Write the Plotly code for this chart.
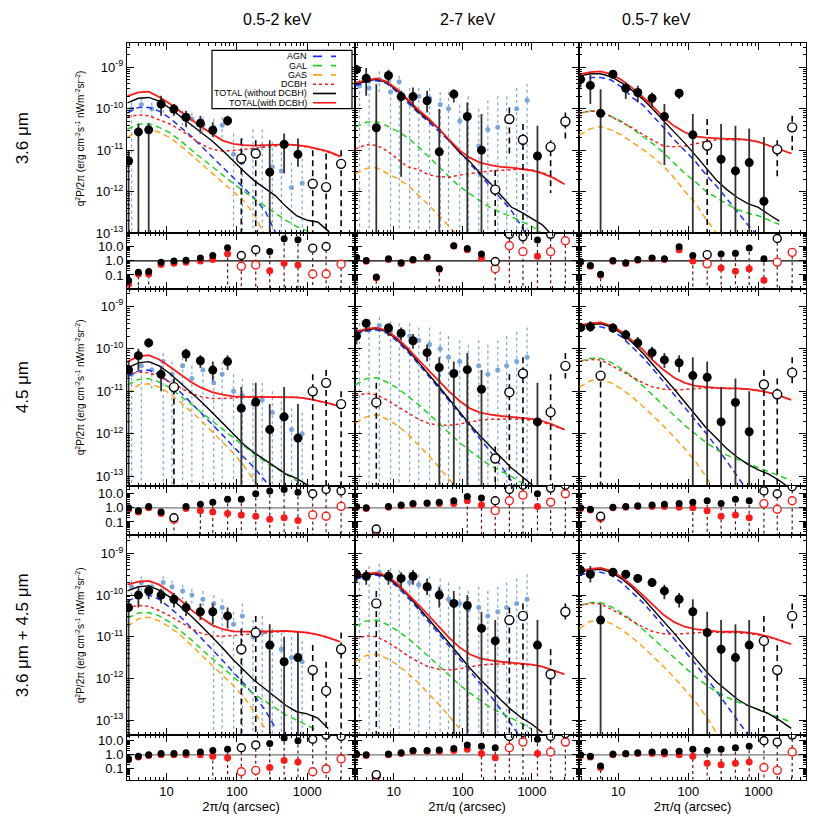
import plotly.graph_objects as go

# ---------------- data (log10 values) ----------------
CURVE_X = [2.8, 4.0, 5.6, 7.9, 11.2, 15.8, 22.4, 31.6, 44.7, 63.1, 89.1, 126, 178, 251, 355, 501, 708, 1000, 1413, 1995, 2951]
BIN_X = [2.9, 4.0, 5.6, 8.4, 12.8, 19.0, 30.4, 45.6, 74, 116, 186, 294, 471, 740, 1200, 1860, 3040]
BLUE_X = [3.2, 4.4, 6.2, 9.0, 12.0, 17.0, 23.0, 33.0, 47.0, 62.0, 90.0, 120, 170, 230, 320, 430, 600, 850, 1200, 1700]

COL_TITLES = ["0.5-2 keV", "2-7 keV", "0.5-7 keV"]
ROW_TITLES = ["3.6 \u03bcm", "4.5 \u03bcm", "3.6 \u03bcm + 4.5 \u03bcm"]
LEGEND_NAMES = ["AGN", "GAL", "GAS", "DCBH", "TOTAL (without DCBH)", "TOTAL(with DCBH)"]
N = None

# ---- 3.6 um, 0.5-2 keV ----
AGN_36_S = [-10.10,-9.97,-9.97,-10.06,-10.23,-10.44,-10.66,-10.91,-11.16,-11.41,-11.66,-11.91,-12.16,-12.45,-12.98,-13.4,-14,N,N,N,N]
GAL_36_S = [-10.49,-10.38,-10.36,-10.45,-10.58,-10.77,-10.99,-11.20,-11.40,-11.60,-11.80,-12.0,-12.18,-12.35,-12.53,-12.69,-12.84,-12.94,-13.05,-13.2,-13.4]
GAS_36_S = [-10.70,-10.52,-10.48,-10.57,-10.70,-10.89,-11.11,-11.34,-11.56,-11.78,-12.0,-12.23,-12.55,-13.1,-13.6,N,N,N,N,N,N]
DCBH_36_S = [-10.19,-10.15,-10.17,-10.27,-10.37,-10.51,-10.69,-10.86,-10.98,-11.02,-11.01,-10.98,-10.95,-10.92,-10.89,-10.87,-10.88,-10.92,-10.97,-11.05,-11.16]
TOT_36_S = [-9.86,-9.75,-9.73,-9.82,-9.99,-10.19,-10.38,-10.60,-10.78,-11.01,-11.27,-11.51,-11.74,-11.91,-12.10,-12.36,-12.58,-12.69,-12.73,-12.95,-13.3]
TOTD_36_S = [-9.70,-9.61,-9.59,-9.72,-9.88,-10.07,-10.27,-10.44,-10.61,-10.77,-10.85,-10.88,-10.89,-10.88,-10.87,-10.86,-10.88,-10.91,-10.97,-11.03,-11.15]
PT_36_S = [-11.26,-10.56,-10.51,-9.89,-10.01,-10.21,-10.35,-10.52,-10.29,-11.20,-11.08,-11.53,-10.86,-11.10,-11.81,-11.89,-11.33]
HI_36_S = [-11.0,-10.36,-10.36,-9.69,-9.89,-10.05,-10.17,-10.33,-10.17,-10.72,-10.76,-10.76,-10.60,-10.72,-11.0,-11.08,-11.0]
LO_36_S = [-14,-14,-14,-10.17,-10.17,-10.45,-10.60,-10.68,-10.41,-14,-14,-14,-11.56,-11.40,-14,-14,-14]
OPEN_36_S = [0,0,0,0,0,0,0,0,0,1,1,0,0,0,1,1,1]
BL_36_S = [-10.0,-9.9,-10.0,-9.9,-10.05,-10.2,-10.25,-10.4,-10.45,-10.4,-11.1,-11.3,-11.0,-10.9,-11.4,-11.5,-11.9,-11.8,N,N]
BLHI_36_S = [-9.85,-9.75,-9.85,-9.75,-9.9,-10.05,-10.1,-10.2,-10.25,-10.2,-10.6,-10.7,-10.5,-10.5,-10.8,-10.9,-11.3,-11.2,N,N]
BLLO_36_S = [-14,-10.1,-10.2,-10.1,-10.2,-10.4,-10.45,-10.6,-10.7,-10.7,-14,-14,-14,-14,-14,-14,-14,-14,N,N]
RB_36_S = [-1.40,-0.81,-0.76,-0.10,-0.02,0.05,0.21,0.38,0.93,0.38,0.79,0.67,1.57,1.50,0.90,1.02,N]
RR_36_S = [-1.64,-0.93,-0.93,-0.26,-0.17,-0.10,-0.02,0.10,0.50,-0.38,-0.29,-0.71,-0.17,-0.29,-0.93,-0.93,-0.24]

# ---- 3.6 um, 2-7 keV ----
AGN_36_H = [-9.45,-9.37,-9.32,-9.39,-9.60,-9.84,-10.10,-10.31,-10.53,-10.77,-11.03,-11.31,-11.60,-11.87,-12.15,-12.45,-12.84,-13.3,N,N,N]
GAL_36_H = [-10.44,-10.33,-10.31,-10.41,-10.54,-10.70,-10.91,-11.14,-11.39,-11.64,-11.87,-12.05,-12.22,-12.39,-12.50,-12.60,-12.72,-12.84,-13.01,-13.15,-13.3]
GAS_36_H = [-11.57,-11.44,-11.42,-11.54,-11.68,-11.84,-12.07,-12.31,-12.57,-12.83,-13.1,-13.5,N,N,N,N,N,N,N,N,N]
DCBH_36_H = [-10.97,-10.87,-10.88,-11.01,-11.20,-11.40,-11.46,-11.59,-11.64,-11.65,-11.60,-11.56,-11.53,-11.50,-11.49,-11.48,-11.46,-11.48,-11.54,-11.65,-11.82]
TOT_36_H = [-9.41,-9.35,-9.29,-9.37,-9.56,-9.79,-10.06,-10.27,-10.48,-10.76,-11.05,-11.27,-11.56,-11.80,-12.10,-12.37,-12.50,-12.64,-12.80,-13.07,-13.3]
TOTD_36_H = [-9.37,-9.32,-9.27,-9.35,-9.53,-9.77,-10.02,-10.23,-10.48,-10.75,-11.0,-11.18,-11.30,-11.36,-11.40,-11.42,-11.45,-11.49,-11.56,-11.66,-11.82]
PT_36_H = [-9.06,-9.27,-10.46,-9.20,-9.71,-9.71,-9.81,-11.04,-9.65,-10.19,-11.0,-11.95,-10.25,-10.75,-11.14,-10.92,-10.31]
HI_36_H = [-8.94,-9.02,-9.41,-9.06,-9.57,-9.49,-9.57,-10.01,-9.53,-9.85,-10.13,-11.48,-9.97,-10.37,-10.41,-10.76,-10.09]
LO_36_H = [-9.17,-9.69,-14,-9.37,-11.64,-9.97,-10.09,-14,-9.85,-14,-14,-14,-11.08,-14,-14,-12.03,-10.72]
OPEN_36_H = [0,0,0,0,0,0,0,0,0,0,0,1,1,1,0,1,1]
BL_36_H = [-9.45,-9.5,-9.3,-9.6,-9.35,-9.85,-9.7,-9.75,-9.9,-10.0,-10.3,-10.2,-10.9,-10.5,-10.45,-10.3,-10.0,-9.8,N,N]
BLHI_36_H = [-9.3,-9.2,-9.1,-9.3,-9.2,-9.5,-9.5,-9.5,-9.6,-9.6,-9.9,-9.7,-10.0,-9.8,-9.7,-9.7,-9.5,-9.4,N,N]
BLLO_36_H = [-14,-14,-9.6,-14,-14,-14,-14,-14,-14,-14,-14,-14,-14,-14,-14,-14,-14,-14,N,N]
RB_36_H = [0.26,0.02,-1.14,0.14,-0.14,0.09,0.26,-0.56,1.07,0.88,0.49,-0.05,1.88,1.70,1.47,1.88,N]
RR_36_H = [0.21,-0.03,-1.2,0.09,-0.19,0.04,0.21,-0.6,1.05,0.79,0.21,-0.56,1.07,0.65,0.33,0.65,1.42]

# ---- 3.6 um, 0.5-7 keV ----
AGN_36_F = [-9.32,-9.25,-9.25,-9.31,-9.48,-9.73,-9.91,-10.18,-10.46,-10.75,-11.02,-11.27,-11.59,-11.86,-12.17,-12.49,-12.80,-13.07,-13.5,N,N]
GAL_36_F = [-10.11,-10.05,-10.07,-10.18,-10.31,-10.48,-10.67,-10.85,-11.07,-11.32,-11.56,-11.76,-11.99,-12.14,-12.30,-12.43,-12.52,-12.58,-12.68,-12.79,N]
GAS_36_F = [-10.64,-10.48,-10.43,-10.51,-10.64,-10.80,-10.98,-11.17,-11.39,-11.67,-11.99,-12.27,-12.66,-12.99,-13.4,N,N,N,N,N,N]
DCBH_36_F = [-10.11,-10.06,-10.06,-10.19,-10.32,-10.46,-10.62,-10.77,-10.90,-10.92,-10.90,-10.84,-10.79,-10.75,-10.75,-10.75,-10.75,-10.80,-10.89,-10.98,-11.08]
TOT_36_F = [-9.21,-9.16,-9.16,-9.23,-9.38,-9.56,-9.77,-10.02,-10.30,-10.56,-10.83,-11.12,-11.43,-11.72,-11.95,-12.14,-12.29,-12.38,-12.55,-12.71,N]
TOTD_36_F = [-9.175,-9.12,-9.10,-9.17,-9.31,-9.50,-9.72,-9.95,-10.22,-10.42,-10.57,-10.67,-10.70,-10.72,-10.73,-10.73,-10.75,-10.80,-10.89,-10.98,-11.08]
PT_36_F = [-9.29,-9.44,-10.11,-9.17,-9.51,-9.61,-9.75,-10.19,-9.63,-10.63,-10.89,-11.22,-11.50,-11.30,-12.23,-10.98,-10.45]
HI_36_F = [-9.17,-9.17,-9.53,-9.10,-9.37,-9.45,-9.61,-9.89,-9.53,-10.13,-10.25,-10.37,-10.41,-10.48,-10.68,-10.76,-10.17]
LO_36_F = [-9.49,-9.89,-14,-9.25,-9.77,-9.85,-9.97,-11.36,-9.77,-14,-14,-14,-14,-14,-14,-11.72,-11.0]
OPEN_36_F = [0,0,0,0,0,0,0,0,0,0,1,0,0,0,0,1,1]
RB_36_F = [-0.05,-0.33,-0.95,0.02,-0.14,0.09,0.21,0.14,1.0,0.37,0.44,0.49,0.53,0.91,0.14,1.58,N]
RR_36_F = [-0.1,-0.38,-1.0,-0.03,-0.19,0.04,0.16,0.09,0.79,-0.02,-0.21,-0.51,-0.74,-0.56,-1.37,-0.09,0.60]

# ---- 4.5 um, 0.5-2 keV ----
AGN_45_S = [-10.65,-10.52,-10.5,-10.6,-10.8,-11.02,-11.27,-11.52,-11.78,-12.03,-12.3,-12.55,-12.8,-13.1,-13.4,N,N,N,N,N,N]
GAL_45_S = [-10.85,-10.72,-10.7,-10.78,-10.92,-11.1,-11.3,-11.5,-11.7,-11.9,-12.1,-12.3,-12.48,-12.65,-12.8,-12.95,-13.1,-13.25,N,N,N]
GAS_45_S = [-11.05,-10.85,-10.82,-10.9,-11.05,-11.25,-11.47,-11.7,-11.95,-12.2,-12.45,-12.75,-13.1,-13.5,N,N,N,N,N,N,N]
DCBH_45_S = [-10.6,-10.55,-10.56,-10.65,-10.78,-10.92,-11.05,-11.13,-11.17,-11.17,-11.15,-11.14,-11.13,-11.13,-11.13,-11.13,-11.14,-11.17,-11.22,-11.28,-11.36]
TOT_45_S = [-10.45,-10.33,-10.3,-10.4,-10.58,-10.8,-11.02,-11.25,-11.5,-11.75,-12.0,-12.25,-12.45,-12.62,-12.8,-12.95,-13.05,-13.2,-13.3,N,N]
TOTD_45_S = [-10.3,-10.18,-10.15,-10.25,-10.42,-10.6,-10.78,-10.92,-11.02,-11.08,-11.12,-11.13,-11.13,-11.13,-11.13,-11.13,-11.14,-11.17,-11.22,-11.28,-11.36]
PT_45_S = [-10.5,-10.16,-9.86,-10.6,-10.9,-10.12,-10.28,-10.5,-10.3,-11.4,-11.25,-11.9,-11.6,-12.1,-11.0,-10.8,-11.3]
HI_45_S = [-10.3,-10.0,-9.75,-10.4,-10.7,-10.0,-10.15,-10.3,-10.15,-10.9,-10.8,-11.3,-10.9,-11.3,-10.6,-10.5,-11.0]
LO_45_S = [-14,-10.5,-9.97,-11.0,-14,-10.3,-10.45,-10.75,-10.5,-14,-14,-14,-14,-14,-14,-14,-14]
OPEN_45_S = [0,0,0,0,1,0,0,0,0,0,0,0,0,0,1,1,1]
BL_45_S = [-10.6,-10.4,-10.5,-10.3,-10.6,-10.4,-10.7,-10.5,-10.8,-10.6,-11.0,-11.1,-11.3,-11.2,-11.5,-11.6,-11.9,-12.0,N,N]
BLHI_45_S = [-10.4,-10.2,-10.3,-10.1,-10.3,-10.2,-10.4,-10.3,-10.5,-10.3,-10.6,-10.7,-10.8,-10.8,-11.0,-11.1,-11.4,-11.5,N,N]
BLLO_45_S = [-14,-14,-11.0,-14,-14,-14,-14,-14,-14,-14,-14,-14,-14,-14,-14,-14,-14,-14,N,N]
RB_45_S = [0.0,-0.2,0.1,-0.3,-0.7,0.1,0.25,0.4,0.6,0.6,1.0,1.2,1.3,1.1,1.0,1.3,1.2]
RR_45_S = [-0.1,-0.3,0.0,-0.4,-0.8,-0.05,-0.2,-0.3,-0.4,-0.5,-0.6,-0.8,-0.7,-0.9,-0.5,-0.6,0.1]

# ---- 4.5 um, 2-7 keV ----
AGN_45_H = [-9.65,-9.58,-9.55,-9.63,-9.82,-10.06,-10.34,-10.62,-10.92,-11.22,-11.52,-11.82,-12.12,-12.42,-12.75,-13.1,-13.4,N,N,N,N]
GAL_45_H = [-10.85,-10.7,-10.68,-10.78,-10.92,-11.1,-11.3,-11.52,-11.75,-11.98,-12.2,-12.4,-12.58,-12.75,-12.88,-13.0,-13.15,-13.3,N,N,N]
GAS_45_H = [-11.75,-11.6,-11.55,-11.65,-11.8,-12.0,-12.25,-12.5,-12.78,-13.05,-13.35,N,N,N,N,N,N,N,N,N,N]
DCBH_45_H = [-11.1,-11.05,-11.08,-11.2,-11.35,-11.5,-11.65,-11.75,-11.8,-11.8,-11.77,-11.72,-11.68,-11.66,-11.65,-11.65,-11.66,-11.68,-11.72,-11.8,-11.9]
TOT_45_H = [-9.62,-9.55,-9.52,-9.6,-9.78,-10.02,-10.3,-10.58,-10.88,-11.18,-11.48,-11.78,-12.05,-12.3,-12.55,-12.8,-13.0,-13.2,-13.35,N,N]
TOTD_45_H = [-9.6,-9.53,-9.5,-9.57,-9.75,-9.98,-10.25,-10.5,-10.75,-11.0,-11.22,-11.4,-11.5,-11.55,-11.58,-11.6,-11.62,-11.65,-11.7,-11.78,-11.9]
PT_45_H = [-9.7,-9.4,-11.26,-9.51,-9.63,-9.81,-10.09,-10.44,-10.58,-10.49,-10.95,-12.58,-11.02,-10.58,-11.72,-11.49,-10.4]
HI_45_H = [-9.5,-9.3,-10.8,-9.4,-9.5,-9.65,-9.9,-10.2,-10.3,-10.1,-10.5,-12.3,-10.6,-10.2,-10.8,-10.6,-10.1]
LO_45_H = [-9.9,-9.6,-14,-9.7,-9.8,-10.0,-10.3,-14,-14,-14,-14,-14,-14,-14,-14,-14,-10.7]
OPEN_45_H = [0,0,1,0,0,0,0,0,0,0,0,1,1,1,0,1,1]
BL_45_H = [-9.6,-9.55,-9.45,-9.6,-9.7,-9.7,-9.8,-9.9,-10.0,-10.2,-10.3,-10.5,-10.4,-10.6,-10.5,-10.4,-10.3,-10.2,N,N]
BLHI_45_H = [-9.4,-9.3,-9.25,-9.35,-9.4,-9.4,-9.5,-9.5,-9.6,-9.7,-9.8,-9.9,-9.8,-9.9,-9.8,-9.7,-9.6,-9.5,N,N]
BLLO_45_H = [-14,-14,-14,-14,-14,-14,-14,-14,-14,-14,-14,-14,-14,-14,-14,-14,-14,-14,N,N]
RB_45_H = [0.1,0.0,-1.5,0.1,0.2,0.3,0.35,0.4,0.5,0.8,0.7,0.5,1.3,1.6,1.0,1.4,1.6]
RR_45_H = [0.05,-0.05,-1.6,0.05,0.15,0.25,0.3,0.3,0.3,0.5,0.2,-0.2,0.5,0.9,0.1,0.4,1.0]

# ---- 4.5 um, 0.5-7 keV ----
AGN_45_F = [-9.55,-9.5,-9.48,-9.55,-9.72,-9.95,-10.2,-10.48,-10.78,-11.08,-11.38,-11.68,-11.98,-12.3,-12.65,-13.0,-13.35,N,N,N,N]
GAL_45_F = [-10.3,-10.22,-10.22,-10.32,-10.47,-10.65,-10.87,-11.1,-11.33,-11.56,-11.8,-12.0,-12.2,-12.37,-12.5,-12.6,-12.7,-12.8,-12.9,-13.0,-13.1]
GAS_45_F = [-10.9,-10.75,-10.72,-10.8,-10.95,-11.13,-11.35,-11.58,-11.82,-12.08,-12.35,-12.65,-13.0,-13.4,N,N,N,N,N,N,N]
DCBH_45_F = [-10.3,-10.25,-10.26,-10.38,-10.52,-10.66,-10.8,-10.9,-10.95,-10.97,-10.95,-10.93,-10.92,-10.92,-10.93,-10.93,-10.95,-10.98,-11.03,-11.1,-11.2]
TOT_45_F = [-9.48,-9.43,-9.41,-9.48,-9.64,-9.85,-10.1,-10.38,-10.66,-10.95,-11.25,-11.55,-11.85,-12.1,-12.35,-12.55,-12.72,-12.85,-12.95,-13.1,-13.3]
TOTD_45_F = [-9.45,-9.4,-9.38,-9.45,-9.6,-9.8,-10.02,-10.28,-10.5,-10.68,-10.8,-10.87,-10.9,-10.92,-10.93,-10.93,-10.95,-10.98,-11.03,-11.1,-11.2]
PT_45_F = [-9.5,-9.48,-10.63,-9.51,-9.67,-9.86,-10.09,-10.26,-10.33,-10.63,-10.67,-11.72,-11.26,-11.95,-10.84,-11.07,-10.56]
HI_45_F = [-9.4,-9.35,-10.3,-9.4,-9.55,-9.72,-9.95,-10.1,-10.15,-10.2,-10.3,-10.9,-10.7,-11.0,-10.5,-10.7,-10.2]
LO_45_F = [-9.6,-9.6,-14,-9.62,-9.8,-10.0,-10.25,-10.45,-10.55,-14,-14,-14,-14,-14,-14,-14,-10.9]
OPEN_45_F = [0,0,1,0,0,0,0,0,0,0,0,0,0,0,1,1,1]
RB_45_F = [0.0,-0.1,-0.6,0.05,0.1,0.15,0.2,0.25,0.3,0.4,0.5,0.3,0.6,0.5,1.2,1.0,1.5]
RR_45_F = [-0.05,-0.15,-0.7,0.0,0.05,0.1,0.1,0.1,0.05,0.0,-0.2,-0.6,-0.5,-0.7,0.3,-0.1,0.5]

# ---- 3.6+4.5 um, 0.5-2 keV ----
AGN_3645_S = [-10.15,-10.02,-10.0,-10.1,-10.3,-10.52,-10.78,-11.04,-11.3,-11.57,-11.85,-12.12,-12.42,-12.75,-13.2,N,N,N,N,N,N]
GAL_3645_S = [-10.55,-10.43,-10.42,-10.5,-10.65,-10.85,-11.07,-11.3,-11.52,-11.75,-11.97,-12.18,-12.38,-12.55,-12.72,-12.88,-13.0,-13.12,-13.25,N,N]
GAS_3645_S = [-10.75,-10.57,-10.53,-10.62,-10.77,-10.96,-11.2,-11.44,-11.68,-11.92,-12.17,-12.45,-12.8,-13.2,N,N,N,N,N,N,N]
DCBH_3645_S = [-10.3,-10.25,-10.27,-10.37,-10.5,-10.65,-10.8,-10.92,-10.98,-10.99,-10.97,-10.94,-10.92,-10.9,-10.88,-10.87,-10.88,-10.9,-10.95,-11.02,-11.12]
TOT_3645_S = [-9.9,-9.8,-9.78,-9.88,-10.05,-10.27,-10.5,-10.75,-11.0,-11.27,-11.55,-11.8,-12.05,-12.25,-12.45,-12.65,-12.8,-12.85,-12.95,-13.2,N]
TOTD_3645_S = [-9.75,-9.68,-9.66,-9.75,-9.92,-10.12,-10.35,-10.55,-10.72,-10.82,-10.87,-10.88,-10.88,-10.87,-10.86,-10.86,-10.88,-10.9,-10.95,-11.02,-11.12]
PT_3645_S = [-10.3,-10.0,-9.9,-10.0,-10.1,-10.3,-10.4,-10.4,-10.5,-11.3,-10.9,-11.2,-11.6,-11.5,-11.8,-12.3,-11.3]
HI_3645_S = [-10.1,-9.8,-9.75,-9.85,-9.95,-10.15,-10.2,-10.2,-10.3,-10.8,-10.5,-10.7,-11.0,-10.9,-11.2,-11.6,-10.9]
LO_3645_S = [-14,-10.3,-10.1,-10.2,-10.3,-10.5,-10.6,-10.7,-10.8,-14,-14,-14,-14,-14,-14,-14,-14]
OPEN_3645_S = [0,0,0,0,0,0,0,0,0,1,1,0,0,0,1,1,1]
BL_3645_S = [-9.8,-9.7,-9.8,-9.7,-9.8,-9.9,-10.0,-10.1,-10.2,-10.3,-10.7,-10.5,-11.0,-10.9,-11.2,-11.3,-11.5,-11.6,N,N]
BLHI_3645_S = [-9.65,-9.55,-9.65,-9.55,-9.65,-9.75,-9.85,-9.9,-10.0,-10.1,-10.4,-10.2,-10.6,-10.5,-10.8,-10.9,-11.0,-11.1,N,N]
BLLO_3645_S = [-10.0,-9.9,-10.0,-9.9,-10.0,-10.1,-10.2,-10.3,-14,-14,-14,-14,-14,-14,-14,-14,-14,-14,N,N]
RB_3645_S = [-0.3,-0.1,0.0,0.1,0.1,0.15,0.2,0.3,0.4,0.5,0.7,0.8,1.2,1.0,1.1,1.4,1.3]
RR_3645_S = [-0.35,-0.15,-0.05,0.0,0.0,0.0,0.0,-0.1,-0.2,-1.2,-1.1,-0.9,-0.4,-0.5,-1.2,-1.0,-0.3]

# ---- 3.6+4.5 um, 2-7 keV ----
AGN_3645_H = [-9.62,-9.55,-9.52,-9.6,-9.8,-10.05,-10.33,-10.62,-10.92,-11.22,-11.52,-11.82,-12.12,-12.42,-12.75,-13.1,-13.45,N,N,N,N]
GAL_3645_H = [-10.75,-10.62,-10.6,-10.7,-10.85,-11.03,-11.24,-11.47,-11.7,-11.93,-12.15,-12.35,-12.53,-12.7,-12.83,-12.95,-13.08,-13.22,N,N,N]
GAS_3645_H = [-11.6,-11.45,-11.42,-11.52,-11.67,-11.87,-12.1,-12.35,-12.62,-12.9,-13.2,N,N,N,N,N,N,N,N,N,N]
DCBH_3645_H = [-11.05,-10.98,-11.0,-11.12,-11.28,-11.45,-11.6,-11.72,-11.78,-11.8,-11.77,-11.72,-11.68,-11.66,-11.65,-11.65,-11.66,-11.68,-11.72,-11.8,-11.9]
TOT_3645_H = [-9.58,-9.52,-9.49,-9.57,-9.76,-10.0,-10.28,-10.56,-10.85,-11.15,-11.45,-11.75,-12.02,-12.28,-12.52,-12.75,-12.95,-13.1,-13.3,N,N]
TOTD_3645_H = [-9.55,-9.49,-9.46,-9.53,-9.72,-9.96,-10.22,-10.48,-10.75,-11.02,-11.25,-11.42,-11.52,-11.57,-11.6,-11.62,-11.64,-11.67,-11.72,-11.8,-11.9]
PT_3645_H = [-9.5,-9.55,-10.2,-9.55,-9.6,-9.55,-9.8,-10.0,-10.2,-10.25,-10.8,-11.1,-10.6,-10.5,-11.2,-11.9,-10.4]
HI_3645_H = [-9.35,-9.4,-9.9,-9.4,-9.45,-9.4,-9.6,-9.8,-9.9,-10.0,-10.4,-10.6,-10.3,-10.2,-10.6,-11.3,-10.2]
LO_3645_H = [-9.7,-9.75,-14,-9.75,-9.8,-9.75,-10.0,-10.3,-14,-14,-14,-14,-14,-14,-14,-14,-10.6]
OPEN_3645_H = [0,0,1,0,0,0,0,0,0,0,0,0,1,1,0,1,1]
BL_3645_H = [-9.55,-9.5,-9.45,-9.6,-9.65,-9.7,-9.75,-9.85,-9.9,-10.1,-10.2,-10.35,-10.3,-10.5,-10.4,-10.3,-10.2,-10.1,N,N]
BLHI_3645_H = [-9.4,-9.3,-9.25,-9.35,-9.4,-9.45,-9.5,-9.55,-9.6,-9.7,-9.8,-9.9,-9.8,-9.9,-9.8,-9.7,-9.6,-9.5,N,N]
BLLO_3645_H = [-14,-14,-14,-14,-14,-14,-14,-14,-14,-14,-14,-14,-14,-14,-14,-14,-14,-14,N,N]
RB_3645_H = [0.05,0.0,-1.4,0.05,0.15,0.3,0.3,0.35,0.45,0.7,0.6,0.5,1.3,1.6,1.1,1.3,1.5]
RR_3645_H = [0.0,-0.05,-1.5,0.0,0.1,0.25,0.25,0.25,0.3,0.4,0.1,-0.2,0.5,0.9,0.1,0.2,0.9]

# ---- 3.6+4.5 um, 0.5-7 keV ----
AGN_3645_F = [-9.52,-9.46,-9.45,-9.52,-9.7,-9.93,-10.18,-10.46,-10.75,-11.05,-11.35,-11.65,-11.97,-12.3,-12.65,-13.0,-13.35,N,N,N,N]
GAL_3645_F = [-10.25,-10.18,-10.18,-10.28,-10.43,-10.61,-10.82,-11.05,-11.28,-11.52,-11.75,-11.96,-12.15,-12.32,-12.45,-12.56,-12.65,-12.75,-12.85,-12.95,-13.05]
GAS_3645_F = [-10.8,-10.63,-10.6,-10.68,-10.83,-11.02,-11.24,-11.47,-11.72,-11.98,-12.26,-12.56,-12.9,-13.3,N,N,N,N,N,N,N]
DCBH_3645_F = [-10.25,-10.2,-10.21,-10.33,-10.47,-10.62,-10.77,-10.88,-10.93,-10.94,-10.92,-10.9,-10.89,-10.89,-10.9,-10.9,-10.92,-10.96,-11.01,-11.08,-11.18]
TOT_3645_F = [-9.45,-9.4,-9.38,-9.45,-9.61,-9.82,-10.07,-10.35,-10.63,-10.92,-11.22,-11.52,-11.82,-12.08,-12.3,-12.5,-12.65,-12.75,-12.85,-13.0,-13.2]
TOTD_3645_F = [-9.42,-9.37,-9.35,-9.42,-9.57,-9.77,-10.0,-10.25,-10.48,-10.65,-10.76,-10.82,-10.85,-10.87,-10.88,-10.88,-10.9,-10.94,-11.0,-11.08,-11.18]
PT_3645_F = [-9.4,-9.5,-10.6,-9.45,-9.5,-9.6,-9.7,-9.9,-10.1,-10.4,-10.9,-11.3,-11.5,-11.2,-11.1,-11.8,-10.5]
HI_3645_F = [-9.3,-9.3,-10.2,-9.35,-9.4,-9.5,-9.6,-9.75,-9.95,-10.1,-10.4,-10.6,-10.7,-10.6,-10.5,-11.2,-10.2]
LO_3645_F = [-9.5,-9.7,-14,-9.55,-9.6,-9.7,-9.8,-10.1,-10.3,-14,-14,-14,-14,-14,-14,-14,-10.8]
OPEN_3645_F = [0,0,0,0,0,0,0,0,0,0,0,0,0,0,1,1,1]
RB_3645_F = [0.0,-0.1,-0.8,0.05,0.1,0.15,0.2,0.2,0.25,0.4,0.3,0.4,0.5,0.6,1.0,0.9,1.4]
RR_3645_F = [-0.05,-0.15,-0.9,0.0,0.05,0.1,0.1,0.05,0.0,-0.1,-0.6,-0.7,-0.6,-0.5,-0.9,-1.1,0.2]

# ------------- assemble -------------
G = globals()
BANDS = ["36", "45", "3645"]
XRAY = ["S", "H", "F"]

COLS_PX = [(127, 355), (355, 579), (579, 806)]
ROWS_PX = [((42, 234), (234, 290)), ((290, 490), (490, 540)), ((540, 742), (742, 787))]
MAIN_RANGE = [(-13.0, -8.43), (-13.23, -8.58), (-13.36, -8.57)]
RAT_RANGE = [(-1.96, 1.96), (-1.96, 1.54), (-1.75, 1.40)]
XRANGE = (0.44, 3.68)

FONT = "Liberation Sans, Arial, Helvetica, sans-serif"
C_AGN, C_GAL, C_GAS, C_RED = "#1a2cff", "#22d422", "#ffa31a", "#ff1a1a"
C_BLUE = "#7aa6dc"
DASH = "6px,4px"


def minor_vals(lo_exp, hi_exp):
    out = []
    for e in range(lo_exp, hi_exp + 1):
        for m in range(2, 10):
            out.append(m * 10.0 ** e)
    return out


X_MINOR = minor_vals(0, 3)
Y_MINOR = minor_vals(-14, -9)
R_MINOR = minor_vals(-2, 1)


def ex(v):
    return None if v is None else 10 ** v


def py(p):
    return 1 - p / 830.0


fig = go.Figure()
layout = dict()


def axname(kind, n):
    return kind + ("" if n == 1 else str(n))


TICKFONT = dict(family=FONT, size=13, color="black")
for r, band in enumerate(BANDS):
    for c, xr in enumerate(XRAY):
        k = r * 3 + c
        nm, nr = 2 * k + 1, 2 * k + 2
        key = band + "_" + xr
        xm, ym = axname("x", nm), axname("y", nm)
        xr_, yr_ = axname("x", nr), axname("y", nr)
        (mt, mb), (rt, rb) = ROWS_PX[r]
        x0, x1 = COLS_PX[c]
        common = dict(showline=True, linecolor="black", linewidth=1, mirror="ticks",
                      ticks="inside", ticklen=7, tickcolor="black", tickwidth=1,
                      showgrid=False, zeroline=False, tickfont=TICKFONT)
        base_x = dict(common, type="log", range=list(XRANGE), domain=[x0 / 830, x1 / 830],
                      tickmode="array", tickvals=[10, 100, 1000], ticktext=["10", "100", "1000"],
                      minor=dict(ticks="inside", ticklen=3, tickcolor="black", tickmode="array",
                                 tickvals=X_MINOR, showgrid=False))
        layout[axname("xaxis", nm)] = dict(base_x, anchor=ym, showticklabels=False)
        ax_rat = dict(base_x, anchor=yr_, showticklabels=(r == 2))
        if r == 2:
            ax_rat["title"] = dict(text="2\u03c0/q (arcsec)", font=dict(family=FONT, size=13, color="black"), standoff=3)
        layout[axname("xaxis", nr)] = ax_rat
        layout[axname("yaxis", nm)] = dict(
            common, type="log", range=list(MAIN_RANGE[r]), domain=[py(mb), py(mt)], anchor=xm,
            tickmode="array", tickvals=[1e-13, 1e-12, 1e-11, 1e-10, 1e-9],
            ticktext=["10<sup>-13</sup>", "10<sup>-12</sup>", "10<sup>-11</sup>", "10<sup>-10</sup>", "10<sup>-9</sup>"],
            minor=dict(ticks="inside", ticklen=3, tickcolor="black", tickmode="array",
                       tickvals=Y_MINOR, showgrid=False),
            showticklabels=(c == 0))
        layout[axname("yaxis", nr)] = dict(
            common, type="log", range=list(RAT_RANGE[r]), domain=[py(rb), py(rt)], anchor=xr_,
            tickmode="array", tickvals=[0.1, 1, 10], ticktext=["0.1", "1.0", "10.0"],
            minor=dict(ticks="inside", ticklen=3, tickcolor="black", tickmode="array",
                       tickvals=R_MINOR, showgrid=False),
            showticklabels=(c == 0))

        # --- blue comparison points (not in 0.5-7 keV) ---
        if ("BL_" + key) in G:
            by, bh, bl = G["BL_" + key], G["BLHI_" + key], G["BLLO_" + key]
            ex_x, ex_y = [], []
            for xi, h, l in zip(BLUE_X, bh, bl):
                if h is None:
                    continue
                ex_x += [xi, xi, None]
                ex_y += [ex(h), ex(l), None]
            fig.add_trace(go.Scatter(x=ex_x, y=ex_y, mode="lines", xaxis=xm, yaxis=ym,
                                     line=dict(color=C_BLUE, width=1.2, dash="dot"), hoverinfo="skip", showlegend=False))
            fig.add_trace(go.Scatter(x=BLUE_X, y=[ex(v) for v in by], mode="markers", xaxis=xm, yaxis=ym,
                                     marker=dict(color=C_BLUE, size=5), showlegend=False))

        # --- model curves ---
        curves = [("AGN_", C_AGN, DASH, 1.5), ("GAL_", C_GAL, DASH, 1.5), ("GAS_", C_GAS, DASH, 1.5),
                  ("DCBH_", C_RED, "dot", 1.5), ("TOT_", "black", "solid", 1.4), ("TOTD_", C_RED, "solid", 1.8)]
        for pre, col, dash, w in curves:
            fig.add_trace(go.Scatter(x=CURVE_X, y=[ex(v) for v in G[pre + key]], mode="lines",
                                     xaxis=xm, yaxis=ym, line=dict(color=col, dash=dash, width=w),
                                     connectgaps=False, showlegend=False, hoverinfo="skip"))

        # --- black measured points with error bars ---
        pt, hi, lo, op = G["PT_" + key], G["HI_" + key], G["LO_" + key], G["OPEN_" + key]
        sx, sy, dx, dy = [], [], [], []
        for xi, h, l, o in zip(BIN_X, hi, lo, op):
            if o:
                dx += [xi, xi, None]; dy += [ex(h), ex(l), None]
            else:
                sx += [xi, xi, None]; sy += [ex(h), ex(l), None]
        fig.add_trace(go.Scatter(x=sx, y=sy, mode="lines", xaxis=xm, yaxis=ym,
                                 line=dict(color="#333333", width=1.8), showlegend=False, hoverinfo="skip"))
        fig.add_trace(go.Scatter(x=dx, y=dy, mode="lines", xaxis=xm, yaxis=ym,
                                 line=dict(color="black", width=1.6, dash="6px,4px"), showlegend=False, hoverinfo="skip"))
        fx = [xi for xi, o in zip(BIN_X, op) if not o]
        fy = [ex(v) for v, o in zip(pt, op) if not o]
        oxs = [xi for xi, o in zip(BIN_X, op) if o]
        oys = [ex(v) for v, o in zip(pt, op) if o]
        fig.add_trace(go.Scatter(x=fx, y=fy, mode="markers", xaxis=xm, yaxis=ym,
                                 marker=dict(color="black", size=9), showlegend=False))
        fig.add_trace(go.Scatter(x=oxs, y=oys, mode="markers", xaxis=xm, yaxis=ym,
                                 marker=dict(color="white", size=9, line=dict(color="black", width=1.4)),
                                 showlegend=False))

        # --- ratio panel ---
        rbk, rrd = G["RB_" + key], G["RR_" + key]
        fig.add_trace(go.Scatter(x=[10 ** XRANGE[0], 10 ** XRANGE[1]], y=[1, 1], mode="lines",
                                 xaxis=xr_, yaxis=yr_, line=dict(color="#777777" if r else "black", width=1.2),
                                 showlegend=False, hoverinfo="skip"))
        vx, vy = [], []
        for xi, b, rr_, o in zip(BIN_X, rbk, rrd, op):
            top = b if b is not None else rr_
            if o or (b is not None and rr_ is not None and (b - rr_) > 0.3) or top < -0.5:
                vx += [xi, xi, None]; vy += [ex(top + 0.15), 10 ** -2.5, None]
        fig.add_trace(go.Scatter(x=vx, y=vy, mode="lines", xaxis=xr_, yaxis=yr_,
                                 line=dict(color="#5a1010", width=1.2, dash="dot"), showlegend=False, hoverinfo="skip"))
        for vals, col in ((rrd, C_RED), (rbk, "black")):
            fxr = [xi for xi, v, o in zip(BIN_X, vals, op) if v is not None and not o]
            fyr = [ex(v) for v, o in zip(vals, op) if v is not None and not o]
            oxr = [xi for xi, v, o in zip(BIN_X, vals, op) if v is not None and o]
            oyr = [ex(v) for v, o in zip(vals, op) if v is not None and o]
            fig.add_trace(go.Scatter(x=fxr, y=fyr, mode="markers", xaxis=xr_, yaxis=yr_,
                                     marker=dict(color=col, size=7), showlegend=False))
            fig.add_trace(go.Scatter(x=oxr, y=oyr, mode="markers", xaxis=xr_, yaxis=yr_,
                                     marker=dict(color="white", size=8, line=dict(color=col, width=1.4)),
                                     showlegend=False))

annotations = []
shapes = []
col_centers = [(a + b) / 2 for a, b in COLS_PX]
for t, cx in zip(COL_TITLES, col_centers):
    annotations.append(dict(text=t, x=cx / 830, y=py(18), xref="paper", yref="paper",
                            yanchor="middle", showarrow=False, font=dict(family=FONT, size=16, color="black")))
for t, (m, _) in zip(ROW_TITLES, ROWS_PX):
    cy = (m[0] + m[1]) / 2
    annotations.append(dict(text=t, x=22 / 830, y=py(cy), xref="paper", yref="paper",
                            xanchor="center", yanchor="middle",
                            textangle=-90, showarrow=False, font=dict(family=FONT, size=17, color="black")))
    annotations.append(dict(text="q<sup>2</sup>P/2\u03c0 (erg cm<sup>-2</sup>s<sup>-1</sup> nWm<sup>-2</sup>sr<sup>-2</sup>)",
                            x=80 / 830, y=py(cy), xref="paper", yref="paper", textangle=-90,
                            xanchor="center", yanchor="middle",
                            showarrow=False, font=dict(family=FONT, size=10, color="black")))

# manual legend box (text left of sample, as in the original)
shapes.append(dict(type="rect", xref="paper", yref="paper", x0=212 / 830, x1=352 / 830,
                   y0=py(108), y1=py(49), line=dict(color="black", width=1.2), fillcolor="white"))
leg_styles = [(C_AGN, "dash"), (C_GAL, "dash"), (C_GAS, "dash"), (C_RED, "dot"), ("black", "solid"), (C_RED, "solid")]
for i, (name, (col, dash)) in enumerate(zip(LEGEND_NAMES, leg_styles)):
    yy = 55 + i * 9.4
    annotations.append(dict(text=name, x=309 / 830, y=py(yy), xref="paper", yref="paper",
                            xanchor="right", yanchor="middle", showarrow=False,
                            font=dict(family=FONT, size=9, color="black")))
    shapes.append(dict(type="line", xref="paper", yref="paper", x0=313 / 830, x1=336 / 830,
                       y0=py(yy), y1=py(yy), line=dict(color=col, width=1.6, dash=dash)))

fig.update_layout(width=830, height=830, margin=dict(l=0, r=0, t=0, b=0),
                  paper_bgcolor="white", plot_bgcolor="white", showlegend=False,
                  annotations=annotations, shapes=shapes, **layout)
fig.write_html("out.html", config={"displayModeBar": False},
               post_script="document.body.style.margin='0px';document.body.style.padding='0px';")
